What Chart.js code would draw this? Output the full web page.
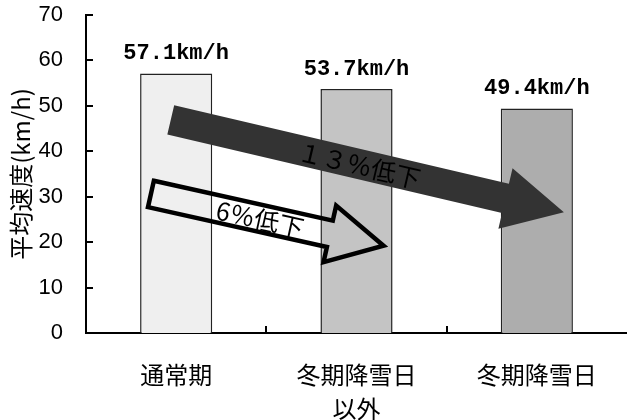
<!DOCTYPE html>
<html>
<head>
<meta charset="utf-8">
<script src="https://cdn.jsdelivr.net/npm/chart.js@4.4.1/dist/chart.umd.min.js"></script>
<style>
  html, body { margin: 0; padding: 0; background: #fff; }
</style>
</head>
<body>
<canvas id="chart-speed" width="627" height="420"></canvas>
<script>
const categories = [["通常期"], ["冬期降雪日", "以外"], ["冬期降雪日"]];
const speeds = [57.1, 53.7, 49.4];
const valueLabels = ["57.1km/h", "53.7km/h", "49.4km/h"];
const barColors = ["#efefef", "#c4c4c4", "#adadad"];
const yTitle = "平均速度(km/h)";

// arrows are placed in data space: [category index, km/h]
const arrows = [
  { from: [-0.03, 46.9], to: [2.15, 26.6], shaft: 30, head: 62, headLen: 60,
    fill: "#333333", stroke: null, text: "１３％低下", at: 0.48 },
  { from: [-0.14, 30.6], to: [1.15, 19.2], shaft: 27, head: 58, headLen: 55,
    fill: null, stroke: "#000000", text: "6％低下", at: 0.47 },
];

Chart.defaults.font.family = "'Liberation Sans', 'Noto Sans CJK JP', sans-serif";
Chart.defaults.color = "#000";

const valueLabelPlugin = {
  id: "valueLabels",
  afterDatasetsDraw(chart) {
    const ctx = chart.ctx;
    const meta = chart.getDatasetMeta(0);
    ctx.save();
    ctx.font = "bold 22px 'Liberation Mono', 'DejaVu Sans Mono', monospace";
    ctx.fillStyle = "#000";
    ctx.textAlign = "center";
    ctx.textBaseline = "middle";
    meta.data.forEach((bar, i) => {
      ctx.fillText(valueLabels[i], bar.x, bar.y - 20);
    });
    ctx.restore();
  },
};

const arrowPlugin = {
  id: "arrows",
  afterDraw(chart) {
    const ctx = chart.ctx;
    const x = chart.scales.x;
    const y = chart.scales.y;
    const area = chart.chartArea;
    ctx.save();
    // inner tick marks
    ctx.strokeStyle = "#000";
    ctx.lineWidth = 2;
    y.ticks.forEach((t) => {
      const py = Math.round(y.getPixelForValue(t.value));
      ctx.beginPath();
      ctx.moveTo(area.left, py);
      ctx.lineTo(area.left + 7, py);
      ctx.stroke();
    });
    for (let i = 0; i < categories.length - 1; i++) {
      const px = Math.round(x.getPixelForValue(i + 0.5));
      ctx.beginPath();
      ctx.moveTo(px, area.bottom);
      ctx.lineTo(px, area.bottom - 7);
      ctx.stroke();
    }
    arrows.forEach((a) => {
      const x0 = x.getPixelForValue(a.from[0]);
      const y0 = y.getPixelForValue(a.from[1]);
      const x1 = x.getPixelForValue(a.to[0]);
      const y1 = y.getPixelForValue(a.to[1]);
      const len = Math.hypot(x1 - x0, y1 - y0);
      const ang = Math.atan2(y1 - y0, x1 - x0);
      ctx.save();
      ctx.translate(x0, y0);
      ctx.rotate(ang);
      ctx.beginPath();
      ctx.moveTo(0, -a.shaft / 2);
      ctx.lineTo(len - a.headLen, -a.shaft / 2);
      ctx.lineTo(len - a.headLen, -a.head / 2);
      ctx.lineTo(len, 0);
      ctx.lineTo(len - a.headLen, a.head / 2);
      ctx.lineTo(len - a.headLen, a.shaft / 2);
      ctx.lineTo(0, a.shaft / 2);
      ctx.closePath();
      if (a.fill) {
        ctx.fillStyle = a.fill;
        ctx.fill();
      }
      if (a.stroke) {
        ctx.strokeStyle = a.stroke;
        ctx.lineWidth = 4.5;
        ctx.lineJoin = "miter";
        ctx.stroke();
      }
      ctx.font = "25px 'Noto Sans CJK JP', sans-serif";
      ctx.fillStyle = "#000";
      ctx.textAlign = "center";
      ctx.textBaseline = "middle";
      ctx.fillText(a.text, len * a.at, 1);
      ctx.restore();
    });
    ctx.restore();
  },
};

const ctx = document.getElementById("chart-speed").getContext("2d");
const chart = new Chart(ctx, {
  type: "bar",
  data: {
    labels: categories,
    datasets: [
      {
        data: speeds,
        backgroundColor: barColors,
        borderColor: "#222",
        borderWidth: 1.5,
        categoryPercentage: 1,
        barPercentage: 0.4,
      },
    ],
  },
  options: {
    responsive: false,
    animation: false,
    layout: { padding: { top: 15, right: 0, left: 0, bottom: 0 } },
    plugins: {
      legend: { display: false },
      tooltip: { enabled: false },
    },
    scales: {
      x: {
        grid: { display: false, drawTicks: false },
        border: { display: true, color: "#000", width: 2 },
        ticks: {
          padding: 25,
          maxRotation: 0,
          autoSkip: false,
          font: { size: 24, lineHeight: 1.4, family: "'Noto Sans CJK JP', sans-serif" },
        },
        afterFit(scale) {
          scale.height = 87;
        },
      },
      y: {
        min: 0,
        max: 70,
        grid: { display: false, drawTicks: false },
        border: { display: true, color: "#000", width: 2 },
        ticks: {
          stepSize: 10,
          padding: 23,
          font: { size: 22 },
        },
        title: {
          display: true,
          text: yTitle,
          padding: { top: 6, bottom: 0 },
          font: { size: 24, family: "'Noto Sans CJK JP', sans-serif" },
        },
        afterFit(scale) {
          scale.width = 86;
          scale.paddingTop = 0;
          scale.paddingBottom = 0;
        },
      },
    },
  },
  plugins: [valueLabelPlugin, arrowPlugin],
});
</script>
</body>
</html>
